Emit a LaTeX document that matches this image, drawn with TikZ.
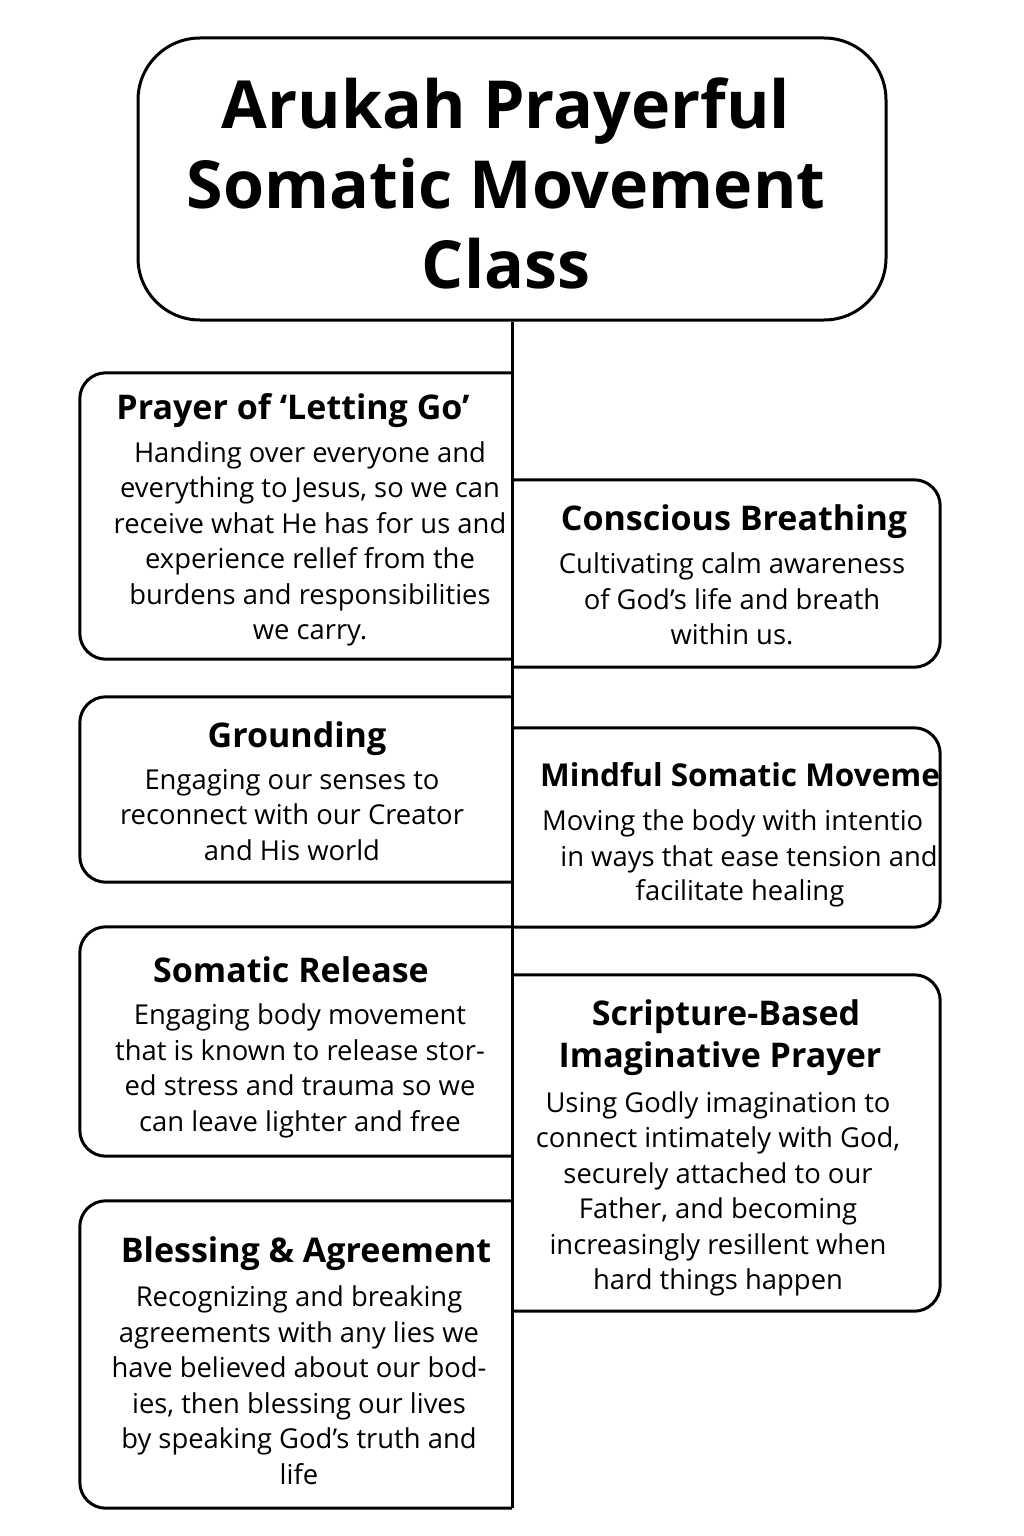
\documentclass[tikz,border=0pt]{standalone}
\usepackage{fontspec}
\setmainfont{Open Sans}
\begin{document}
\begin{tikzpicture}[x=1pt,y=-1pt,
  edge/.style={line width=3pt, black, line join=round},
  frame/.style={rectangle, inner sep=0pt, draw=none},
  hd/.style={font=\fontsize{34}{40}\selectfont\bfseries, anchor=base, inner sep=0pt},
  bd/.style={font=\fontsize{27.4}{35.5}\selectfont, align=center, inner sep=0pt},
  ttlfont/.style={font=\fontsize{66.3}{80}\selectfont\bfseries, align=center, inner sep=0pt}]
\useasboundingbox (0,0) rectangle (1024,1536);
\fill[white] (0,0) rectangle (1024,1536);

% title
\node[draw, edge, rectangle, rounded corners=62pt, minimum width=748pt, minimum height=282pt] (title) at (512,179) {};
\node[ttlfont] (ttl) at (506,192) {\strut Arukah Prayerful\\\strut Somatic Movement\\\strut Class};

% frames
\node[frame, minimum width=432pt, minimum height=286pt] (b1) at (296,516) {};
\node[frame, minimum width=428pt, minimum height=187pt] (b2) at (726,573.5) {};
\node[frame, minimum width=432pt, minimum height=185pt] (b3) at (296,789.5) {};
\node[frame, minimum width=428pt, minimum height=199pt] (b4) at (726,827.5) {};
\node[frame, minimum width=432pt, minimum height=229pt] (b5) at (296,1041.5) {};
\node[frame, minimum width=428pt, minimum height=336pt] (b6) at (726,1143) {};
\node[frame, minimum width=432pt, minimum height=307pt] (b7) at (296,1354.5) {};
\coordinate (spineend) at (512,1508);

% spine
\draw[edge] (title.south) -- (spineend);

% left boxes
\foreach \b in {b1,b3,b5,b7}
  \draw[edge, rounded corners=26pt] (\b.north east) -- (\b.north west) -- (\b.south west) -- (\b.south east);
% right boxes
\foreach \b in {b2,b4,b6}
  \draw[edge, rounded corners=26pt] (\b.north west) -- (\b.north east) -- (\b.south east) -- (\b.south west);

% box 1
\node[hd] (h1) at (293,419) {Prayer of ‘Letting Go’};
\node[bd] (t1) at (310,544) {\strut Handing over everyone and\\\strut everything to Jesus, so we can\\\strut receive what He has for us and\\\strut experience rellef from the\\\strut burdens and responsibilities\\\strut we carry.};

% box 2
\node[hd] (h2) at (734,530) {Conscious Breathing};
\node[bd] (t2) at (732,602) {\strut Cultivating calm awareness\\\strut of God’s life and breath\\\strut within us.};

% box 3
\node[hd] (h3) at (297,747) {Grounding};
\node[bd] (t3) at (292,817.5) {\strut Engaging our senses to\\\strut reconnect with our Creator\\\strut and His world};

% box 4
\begin{scope}
\clip (512,728) rectangle (938.5,927);
\node[hd, font=\fontsize{31.5}{38}\selectfont\bfseries, anchor=base west] (h4) at (540,786) {Mindful Somatic Moveme};
\node[bd, anchor=base west] (t4a) at (542,830) {Moving the body with intentio};
\node[bd, anchor=base] (t4b) at (749,866) {in ways that ease tension and};
\node[bd, anchor=base] (t4c) at (740,900) {facilitate healing};
\end{scope}

% box 5
\node[hd] (h5) at (291,982) {Somatic Release};
\node[bd] (t5) at (300,1071) {\strut Engaging body movement\\\strut that is known to release stor-\\\strut ed stress and trauma so we\\\strut can leave lighter and free};

% box 6
\node[hd] (h6a) at (726,1025) {Scripture-Based};
\node[hd] (h6b) at (720,1067) {Imaginative Prayer};
\node[bd] (t6) at (718,1194) {\strut Using Godly imagination to\\\strut connect intimately with God,\\\strut securely attached to our\\\strut Father, and becoming\\\strut increasingly resillent when\\\strut hard things happen};

% box 7
\node[hd] (h7) at (306,1262) {Blessing \& Agreement};
\node[bd] (t7) at (299,1388.5) {\strut Recognizing and breaking\\\strut agreements with any lies we\\\strut have believed about our bod-\\\strut ies, then blessing our lives\\\strut by speaking God’s truth and\\\strut life};
\end{tikzpicture}
\end{document}
